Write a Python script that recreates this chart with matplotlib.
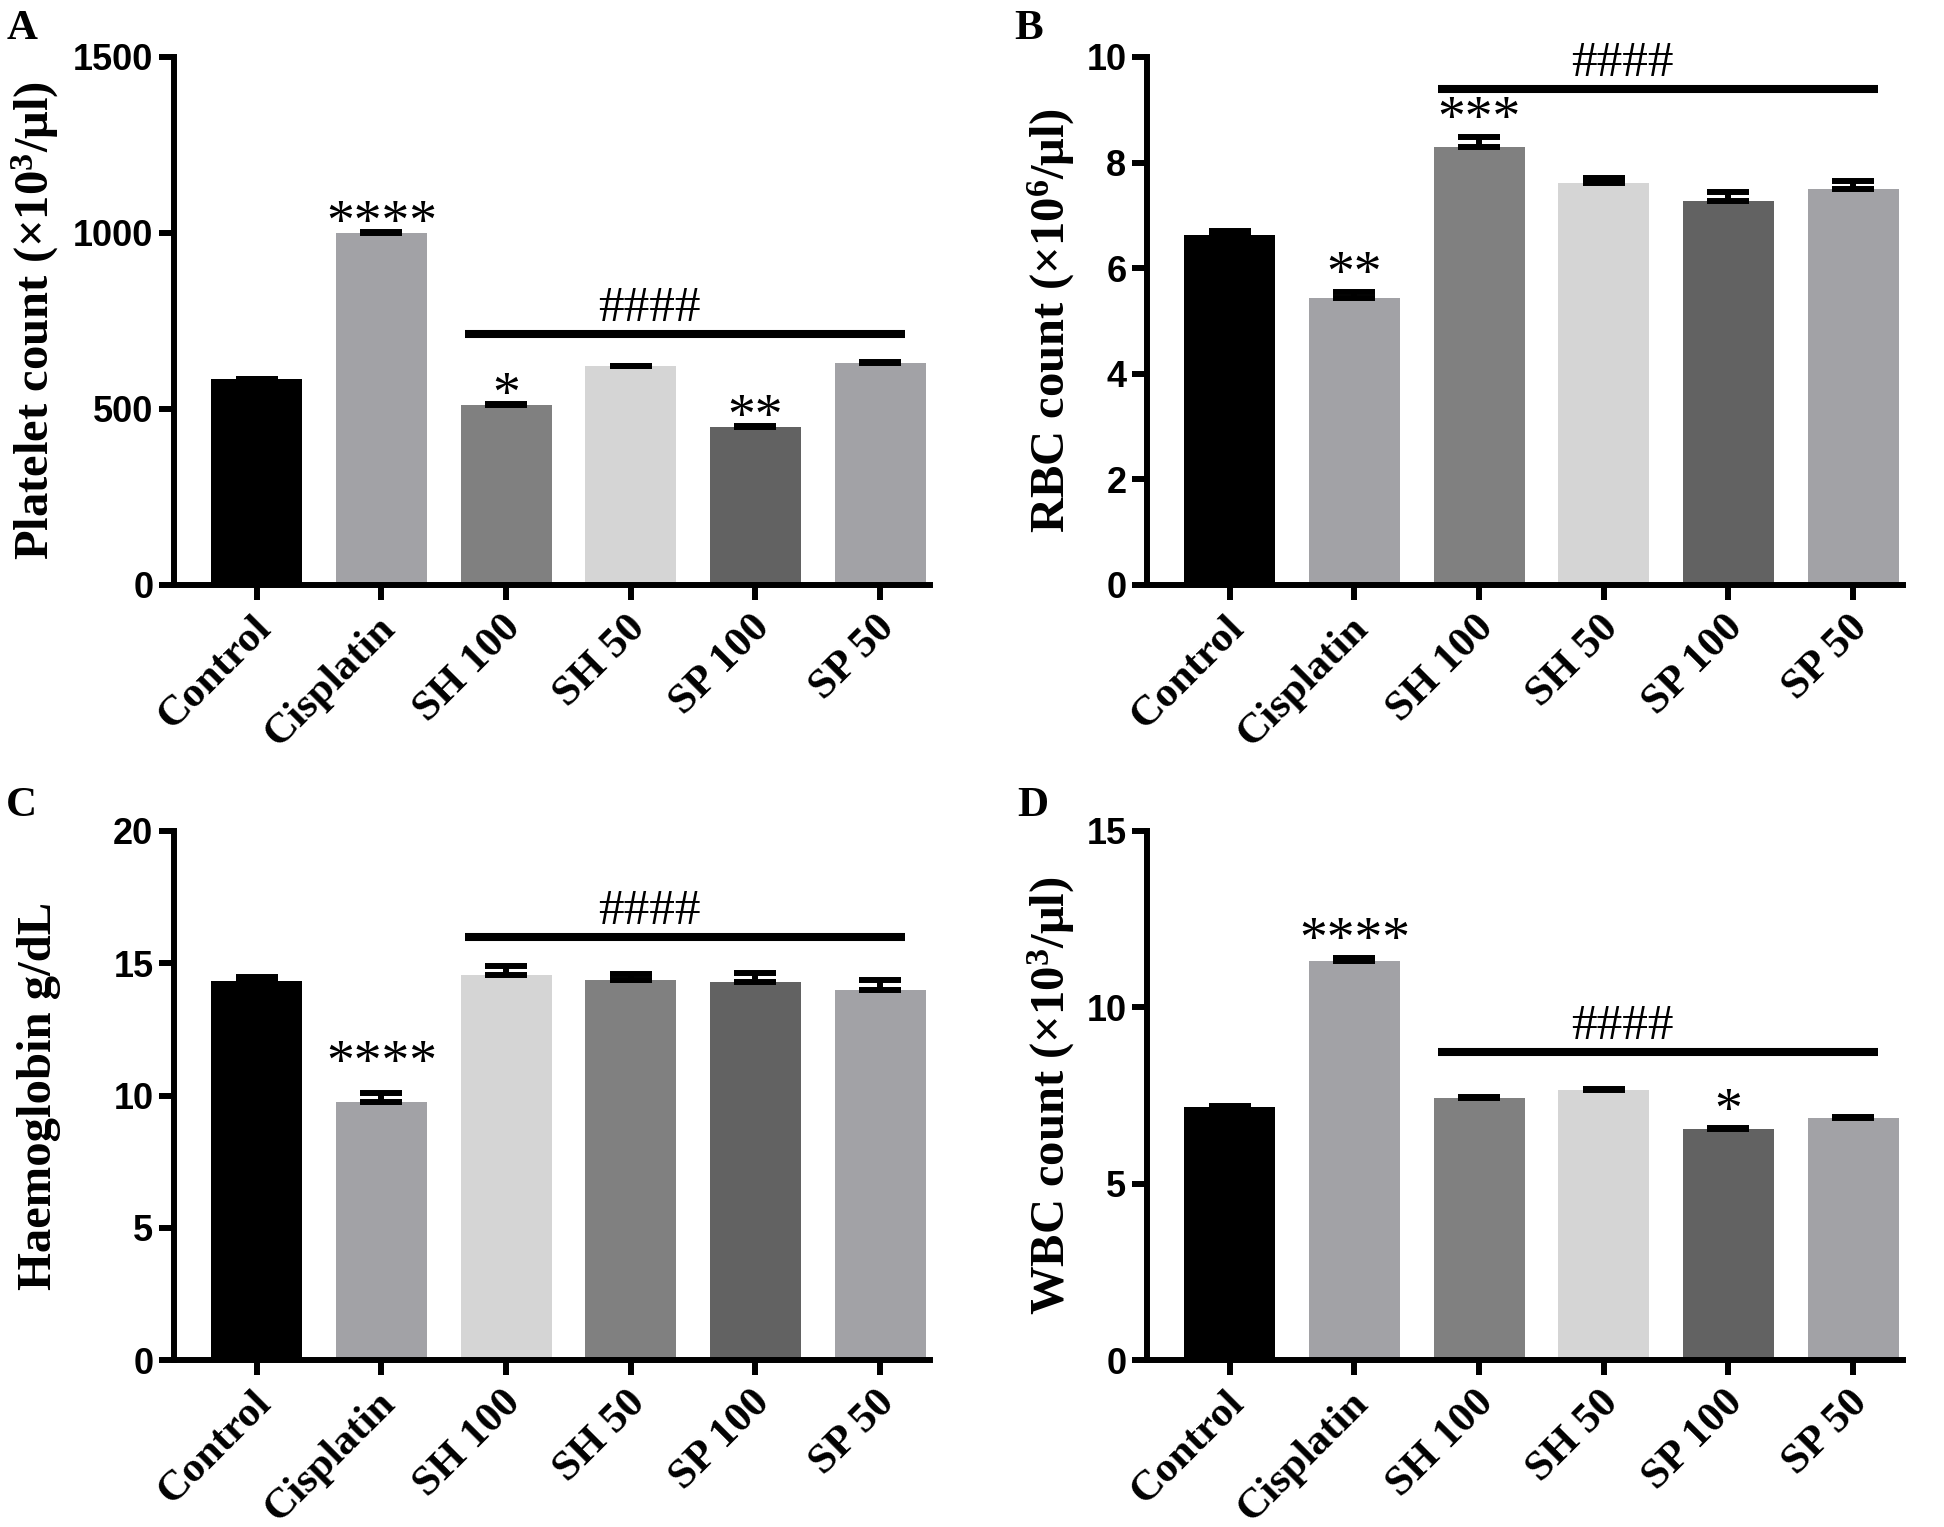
import matplotlib
matplotlib.use("Agg")
import matplotlib.pyplot as plt
import matplotlib.transforms as mtransforms

plt.rcParams['mathtext.fontset'] = 'custom'
plt.rcParams['mathtext.rm'] = 'Liberation Serif:bold'
plt.rcParams['mathtext.it'] = 'Liberation Serif:bold'
plt.rcParams['mathtext.bf'] = 'Liberation Serif:bold'

# groups and values
groups = ["Control", "Cisplatin", "SH 100", "SH 50", "SP 100", "SP 50"]

platelet = [584, 1000, 511, 621, 450, 632]
platelet_err = [1, 2, 2, 2, 2, 2]
platelet_stars = {1: "****", 2: "*", 4: "**"}

rbc = [6.62, 5.44, 8.30, 7.61, 7.28, 7.50]
rbc_err = [0.08, 0.11, 0.19, 0.10, 0.17, 0.15]
rbc_stars = {1: "**", 2: "***"}

hb = [14.34, 9.75, 14.56, 14.37, 14.28, 14.00]
hb_err = [0.14, 0.35, 0.35, 0.22, 0.37, 0.35]
hb_stars = {1: "****"}

wbc = [7.18, 11.31, 7.43, 7.66, 6.54, 6.87]
wbc_err = [0.03, 0.10, 0.04, 0.03, 0.03, 0.03]
wbc_stars = {1: "****", 4: "*"}

# level of the #### line in each panel (data units)
hash_levels = [713, 9.39, 16.0, 8.74]

colors_main = ['#000000', '#a2a2a6', '#808080', '#d5d5d5', '#626262', '#a2a2a6']
colors_hb = ['#000000', '#a2a2a6', '#d5d5d5', '#808080', '#626262', '#a2a2a6']

W, H = 1944, 1527
fig = plt.figure(figsize=(W / 100, H / 100), dpi=100)

LW = 4.3  # axis / error bar line width in points
STAR_FS = 40


def px_rect(x0, y0, x1, y1):
    return [x0 / W, 1 - y1 / H, (x1 - x0) / W, (y1 - y0) / H]


panels = [
    dict(letter='A', rect=px_rect(174, 57, 930, 585), vals=platelet, err=platelet_err,
         stars=platelet_stars, colors=colors_main, ymax=1500, step=500,
         ylabel=r'Platelet count (×10$^{3}$/μl)', label_x=-0.149, star_gap=14,
         letter_xy=(7, 10)),
    dict(letter='B', rect=px_rect(1147, 57, 1903, 585), vals=rbc, err=rbc_err,
         stars=rbc_stars, colors=colors_main, ymax=10, step=2,
         ylabel=r'RBC count (×10$^{6}$/μl)', label_x=-0.093, star_gap=20,
         letter_xy=(1014, 10)),
    dict(letter='C', rect=px_rect(174, 831, 930, 1360), vals=hb, err=hb_err,
         stars=hb_stars, colors=colors_hb, ymax=20, step=5,
         ylabel='Haemoglobin g/dL', label_x=-0.150, star_gap=29,
         letter_xy=(6, 787)),
    dict(letter='D', rect=px_rect(1147, 831, 1903, 1360), vals=wbc, err=wbc_err,
         stars=wbc_stars, colors=colors_main, ymax=15, step=5,
         ylabel=r'WBC count (×10$^{3}$/μl)', label_x=-0.093, star_gap=20,
         letter_xy=(1017, 787)),
]

x = list(range(len(groups)))
label_shift = mtransforms.ScaledTranslation(0.16, -0.24, fig.dpi_scale_trans)

for p, level in zip(panels, hash_levels):
    ax = fig.add_axes(p['rect'])
    ax.bar(x, p['vals'], width=0.73, color=p['colors'], zorder=2)
    ax.errorbar(x, p['vals'], yerr=[[0] * len(x), p['err']], fmt='none',
                ecolor='black', elinewidth=LW, capsize=15, capthick=LW, zorder=3)

    ax.set_xlim(-0.663, 5.40)
    ax.set_ylim(0, p['ymax'])
    ax.set_yticks(range(0, p['ymax'] + 1, p['step']))
    ax.tick_params(axis='both', direction='out', length=10.8, width=LW)
    ax.tick_params(axis='y', pad=4)
    ax.set_xticks(x)
    ax.set_xticklabels(groups, rotation=45, rotation_mode='anchor', ha='right',
                       va='baseline', fontfamily='Liberation Serif',
                       fontweight='bold', fontsize=31)
    # push the rotated labels down/right like the original
    for lab in ax.get_xticklabels():
        lab.set_transform(lab.get_transform() + label_shift)
    for lab in ax.get_yticklabels():
        lab.set_fontfamily('Liberation Sans')
        lab.set_fontweight('bold')
        lab.set_fontsize(26)

    for side in ['top', 'right']:
        ax.spines[side].set_visible(False)
    for side in ['left', 'bottom']:
        ax.spines[side].set_linewidth(LW)

    ax.set_ylabel(p['ylabel'], fontfamily='Liberation Serif', fontweight='bold',
                  fontsize=35)
    ax.yaxis.set_label_coords(p['label_x'], 0.5)

    # asterisks above the error bars
    for i, txt in p['stars'].items():
        top = p['vals'][i] + p['err'][i]
        ax.annotate(txt, xy=(i, top), xytext=(0, p['star_gap'] - 0.47 * STAR_FS),
                    textcoords='offset points', ha='center', va='baseline',
                    fontfamily='Liberation Serif', fontsize=STAR_FS, zorder=4)

    # #### line over the treatment groups
    ax.plot([1.67, 5.2], [level, level], color='black', lw=5.8,
            solid_capstyle='butt', clip_on=False, zorder=4)
    ax.annotate('####', xy=(3.15, level), xytext=(0, 9.5),
                textcoords='offset points', ha='center', va='baseline',
                fontfamily='Liberation Serif', fontsize=37, zorder=4)

    lx, ly = p['letter_xy']
    fig.text(lx / W, 1 - ly / H, p['letter'], fontfamily='Liberation Serif',
             fontweight='bold', fontsize=31, ha='left', va='top')

fig.savefig('out.png', dpi=100)
